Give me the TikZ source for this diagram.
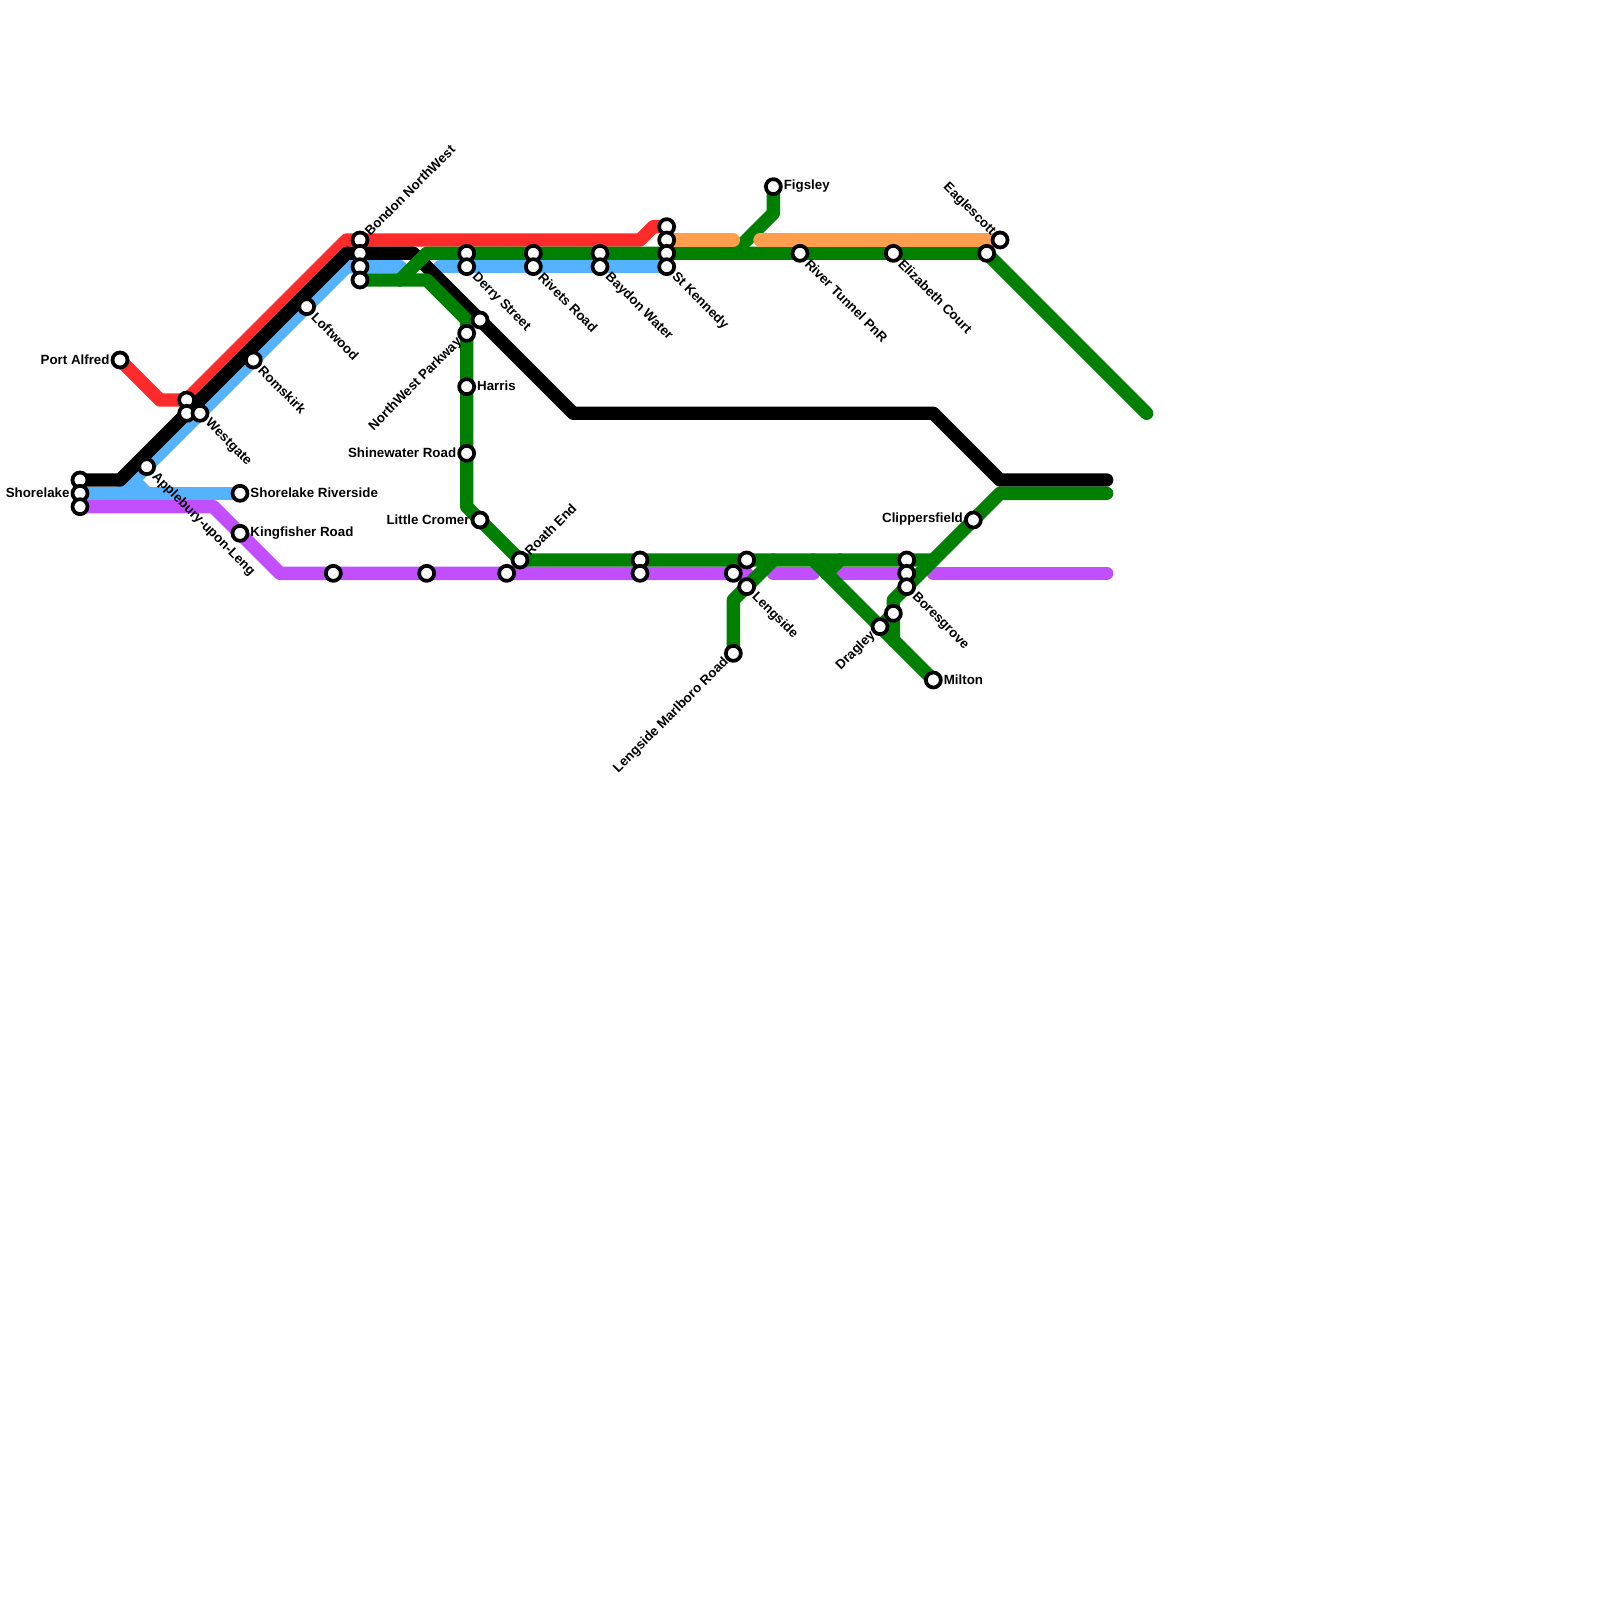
\documentclass[tikz,border=0pt]{standalone}
\usepackage{xcolor}
\usepackage{fontspec}
\setmainfont{Liberation Sans}
\usepackage{tikz}
\usetikzlibrary{positioning, backgrounds}
\definecolor{redline}{RGB}{255, 42, 42}
\definecolor{blueline}{RGB}{85, 178, 255}
\definecolor{purpleline}{RGB}{194, 79, 255}
\definecolor{greenline}{RGB}{0, 128, 0}
\definecolor{orangeline}{RGB}{255, 159, 77}

\begin{document}
\begin{tikzpicture}[
    x=0.2cm, y=-0.2cm,
    station/.style={circle, draw=black, line width=1.6pt, fill=white, inner sep=0pt, minimum size=6.4pt},
    stopname/.style={font=\bfseries\fontsize{5.69pt}{6.5pt}\selectfont, inner sep=0pt},
    nameright/.style={stopname, anchor=west, xshift=0.15cm, yshift=0.01cm},
    nameleft/.style={stopname, anchor=east, xshift=-0.15cm, yshift=0.01cm},
    namedown/.style={stopname, anchor=west, rotate=-45, xshift=0.16cm, yshift=-0.01cm},
    nameup/.style={stopname, anchor=west, rotate=45, xshift=0.14cm},
    namedownleft/.style={stopname, anchor=east, rotate=45, xshift=-0.14cm},
    nameupleft/.style={stopname, anchor=east, rotate=-45, xshift=-0.14cm},
    route/.style={line width=0.2cm, line cap=round, line join=round}
]
\useasboundingbox (0,0) rectangle (120,120);

% stations
\node[station] (portalfred) at (9,27) {};
\node[station] (westgateA) at (14,30) {};
\node[station] (westgateB) at (14,31) {};
\node[station] (westgate) at (15,31) {};
\node[station] (shorelakeA) at (6,36) {};
\node[station] (shorelake) at (6,37) {};
\node[station] (shorelakeC) at (6,38) {};
\node[station] (applebury) at (11,35) {};
\node[station] (riverside) at (18,37) {};
\node[station] (kingfisher) at (18,40) {};
\node[station] (romskirk) at (19,27) {};
\node[station] (loftwood) at (23,23) {};
\node[station] (bondon) at (27,18) {};
\node[station] (bondonB) at (27,19) {};
\node[station] (bondonC) at (27,20) {};
\node[station] (bondonD) at (27,21) {};
\node[station] (derryA) at (35,19) {};
\node[station] (derry) at (35,20) {};
\node[station] (rivetsA) at (40,19) {};
\node[station] (rivets) at (40,20) {};
\node[station] (baydonA) at (45,19) {};
\node[station] (baydon) at (45,20) {};
\node[station] (kennedyA) at (50,17) {};
\node[station] (kennedyB) at (50,18) {};
\node[station] (kennedyC) at (50,19) {};
\node[station] (kennedy) at (50,20) {};
\node[station] (blackstop) at (36,24) {};
\node[station] (parkway) at (35,25) {};
\node[station] (harris) at (35,29) {};
\node[station] (shinewater) at (35,34) {};
\node[station] (cromer) at (36,39) {};
\node[station] (roath) at (39,42) {};
\node[station] (purpleA) at (25,43) {};
\node[station] (purpleB) at (32,43) {};
\node[station] (purpleC) at (38,43) {};
\node[station] (midA) at (48,42) {};
\node[station] (midB) at (48,43) {};
\node[station] (lengsideA) at (56,42) {};
\node[station] (lengsideB) at (55,43) {};
\node[station] (lengside) at (56,44) {};
\node[station] (marlboro) at (55,49) {};
\node[station] (figsley) at (58,14) {};
\node[station] (tunnel) at (60,19) {};
\node[station] (elizabeth) at (67,19) {};
\node[station] (eaglescottA) at (74,19) {};
\node[station] (eaglescott) at (75,18) {};
\node[station] (boresA) at (68,42) {};
\node[station] (boresB) at (68,43) {};
\node[station] (bores) at (68,44) {};
\node[station] (dragleyA) at (67,46) {};
\node[station] (dragley) at (66,47) {};
\node[station] (milton) at (70,51) {};
\node[station] (clippers) at (73,39) {};

% labels
\node[nameleft] (portalfredL) at (portalfred) {Port Alfred};
\node[nameleft] (shorelakeL) at (shorelake) {Shorelake};
\node[nameright] (riversideL) at (riverside) {Shorelake Riverside};
\node[nameright] (kingfisherL) at (kingfisher) {Kingfisher Road};
\node[namedown] (westgateL) at (westgate) {Westgate};
\node[namedown] (appleburyL) at (applebury) {Applebury-upon-Leng};
\node[namedown] (romskirkL) at (romskirk) {Romskirk};
\node[namedown] (loftwoodL) at (loftwood) {Loftwood};
\node[nameup] (bondonL) at (bondon) {Bondon NorthWest};
\node[namedown] (derryL) at (derry) {Derry Street};
\node[namedown] (rivetsL) at (rivets) {Rivets Road};
\node[namedown] (baydonL) at (baydon) {Baydon Water};
\node[namedown] (kennedyL) at (kennedy) {St Kennedy};
\node[namedownleft] (parkwayL) at (parkway) {NorthWest Parkway};
\node[nameright] (harrisL) at (harris) {Harris};
\node[nameleft] (shinewaterL) at (shinewater) {Shinewater Road};
\node[nameleft] (cromerL) at (cromer) {Little Cromer};
\node[nameup] (roathL) at (roath) {Roath End};
\node[namedown] (lengsideL) at (lengside) {Lengside};
\node[namedownleft] (marlboroL) at (marlboro) {Lengside Marlboro Road};
\node[nameright] (figsleyL) at (figsley) {Figsley};
\node[namedown] (tunnelL) at (tunnel) {River Tunnel PnR};
\node[namedown] (elizabethL) at (elizabeth) {Elizabeth Court};
\node[nameupleft] (eaglescottL) at (eaglescott) {Eaglescott};
\node[namedown] (boresL) at (bores) {Boresgrove};
\node[namedownleft] (dragleyL) at (dragley) {Dragley};
\node[nameright] (miltonL) at (milton) {Milton};
\node[nameleft] (clippersL) at (clippers) {Clippersfield};

% bends and line ends
\coordinate (r1) at (12,30);
\coordinate (r2) at (26,18);
\coordinate (r3) at (48,18);
\coordinate (r4) at (49,17);
\coordinate (k1) at (9,36);
\coordinate (k2) at (26,19);
\coordinate (k3) at (31,19);
\coordinate (k4) at (43,31);
\coordinate (k5) at (70,31);
\coordinate (k6) at (75,36);
\coordinate (k7) at (83,36);
\coordinate (b1) at (9,37);
\coordinate (b2) at (26,20);
\coordinate (b3) at (30,20);
\coordinate (b4) at (33,20);
\coordinate (b5) at (10,36);
\coordinate (b6) at (11,37);
\coordinate (p1) at (16,38);
\coordinate (p2) at (21,43);
\coordinate (p3) at (56,43);
\coordinate (p4) at (58,43);
\coordinate (p5) at (61,43);
\coordinate (p6) at (63,43);
\coordinate (p7) at (70,43);
\coordinate (p8) at (83,43);
\coordinate (o1) at (55,18);
\coordinate (o2) at (57,18);
\coordinate (g1) at (32,21);
\coordinate (g2) at (35,24);
\coordinate (g3) at (35,38);
\coordinate (g4) at (30,21);
\coordinate (g5) at (32,19);
\coordinate (g6) at (86,31);
\coordinate (g7) at (58,16);
\coordinate (g8) at (55,19);
\coordinate (g9) at (70,42);
\coordinate (g10) at (75,37);
\coordinate (g11) at (83,37);
\coordinate (g12) at (55,45);
\coordinate (g13) at (58,42);
\coordinate (g14) at (61,42);
\coordinate (g15) at (63,42);
\coordinate (g16) at (62,43);
\coordinate (g17) at (67,45);
\coordinate (g18) at (67,48);

\begin{scope}[on background layer]
\draw[route, purpleline] (shorelakeC.center) -- (p1) -- (p2) -- (p3);
\draw[route, purpleline] (p4) -- (p5);
\draw[route, purpleline] (p6) -- (boresB.center);
\draw[route, purpleline] (p7) -- (p8);
\draw[route, redline] (portalfred.center) -- (r1) -- (westgateA.center) -- (r2) -- (r3) -- (r4) -- (kennedyA.center);
\draw[route, blueline] (shorelake.center) -- (riverside.center);
\draw[route, blueline] (b1) -- (b2) -- (b3);
\draw[route, blueline] (b5) -- (b6);
\draw[route, blueline] (b4) -- (kennedy.center);
\draw[route, black] (shorelakeA.center) -- (k1) -- (k2) -- (k3) -- (k4) -- (k5) -- (k6) -- (k7);
\draw[route, greenline] (bondonD.center) -- (g1) -- (g2) -- (g3) -- (roath.center) -- (g9) -- (g10) -- (g11);
\draw[route, greenline] (g4) -- (g5) -- (eaglescottA.center) -- (g6);
\draw[route, greenline] (figsley.center) -- (g7) -- (g8);
\draw[route, greenline] (marlboro.center) -- (g12) -- (g13);
\draw[route, greenline] (g14) -- (milton.center);
\draw[route, greenline] (g15) -- (g16);
\draw[route, greenline] (g9) -- (bores.center) -- (g17) -- (g18);
\draw[route, greenline] (dragleyA.center) -- (dragley.center);
\draw[route, orangeline] (kennedyB.center) -- (o1);
\draw[route, orangeline] (o2) -- (eaglescott.center);
\end{scope}

\end{tikzpicture}
\end{document}
